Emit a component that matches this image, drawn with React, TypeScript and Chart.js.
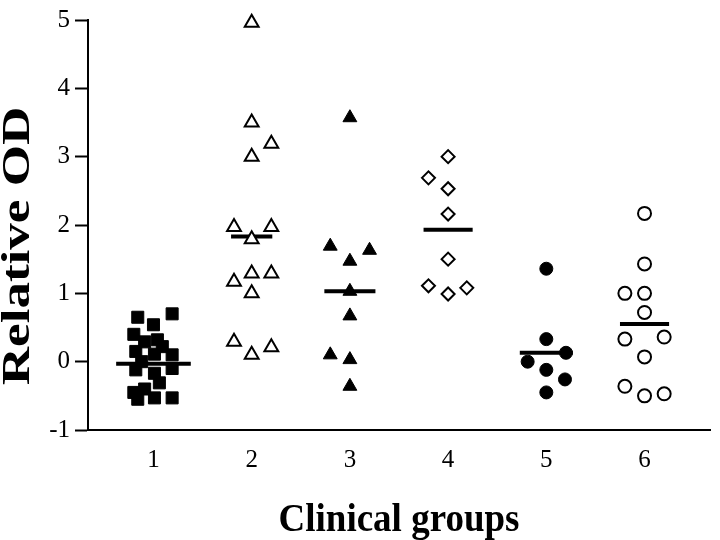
import React, { useEffect, useRef } from 'react';
import { Chart, registerables } from 'chart.js';

Chart.register(...registerables);

// ---------- data ----------
const groupLabels = ['1', '2', '3', '4', '5', '6'];
const groupPositions = [1, 2, 3, 4, 5, 6];
const yTicks = [-1, 0, 1, 2, 3, 4, 5];
const xTitle = 'Clinical groups';
const yTitle = 'Relative OD';

const group1X = [1.19, 0.84, 1.0, 0.8, 0.91, 1.04, 1.09, 0.82, 1.01, 1.19, 0.88, 1.19, 0.82, 1.01, 1.06, 0.91, 0.8, 1.01, 1.19, 0.84];
const group1Y = [0.7, 0.65, 0.54, 0.4, 0.29, 0.32, 0.22, 0.15, 0.11, 0.1, 0.0, -0.1, -0.12, -0.17, -0.31, -0.4, -0.45, -0.53, -0.53, -0.55];

const group2X = [2.0, 2.0, 2.2, 2.0, 1.82, 2.2, 2.0, 1.82, 2.0, 2.2, 2.0, 1.82, 2.0, 2.2];
const group2Y = [4.96, 3.5, 3.19, 3.0, 1.97, 1.97, 1.79, 1.17, 1.29, 1.29, 1.0, 0.29, 0.1, 0.21];

const group3X = [3.0, 2.8, 3.2, 3.0, 3.0, 3.0, 2.8, 3.0, 3.0];
const group3Y = [3.57, 1.69, 1.63, 1.47, 1.03, 0.67, 0.1, 0.03, -0.36];

const group4X = [4.0, 3.8, 4.0, 4.0, 4.0, 3.8, 4.0, 4.19];
const group4Y = [3.0, 2.69, 2.53, 2.16, 1.5, 1.11, 0.99, 1.08];

const group5X = [5.0, 5.0, 5.2, 4.81, 5.0, 5.19, 5.0];
const group5Y = [1.36, 0.33, 0.13, 0.0, -0.12, -0.26, -0.45];

const group6X = [6.0, 6.0, 5.8, 6.0, 6.0, 5.8, 6.2, 6.0, 5.8, 6.0, 6.2];
const group6Y = [2.17, 1.43, 1.0, 1.0, 0.72, 0.33, 0.36, 0.07, -0.36, -0.5, -0.47];

const groupMeans = [-0.03, 1.83, 1.03, 1.93, 0.13, 0.55];

// ---------- styles ----------
const meanHalfWidths = [0.38, 0.21, 0.26, 0.25, 0.27, 0.25];
const FAMILY = '"Liberation Serif", "Times New Roman", serif';

const toPts = (xs: number[], ys: number[]) => xs.map((x, i) => ({ x, y: ys[i] }));

// Titles drawn with a slight stretch, like the reference figure
const titlePlugin = {
  id: 'stretchedTitles',
  afterDraw(chart: any) {
    const { ctx, chartArea } = chart;
    ctx.save();
    ctx.fillStyle = '#000';
    ctx.textAlign = 'center';
    ctx.textBaseline = 'alphabetic';

    // y title (rotated)
    ctx.save();
    ctx.font = `bold 39px ${FAMILY}`;
    ctx.translate(chartArea.left - 59, (chartArea.top + chartArea.bottom) / 2 + 21);
    ctx.rotate(-Math.PI / 2);
    ctx.scale(1.36, 1);
    ctx.fillText(yTitle, 0, 0);
    ctx.restore();

    // x title
    ctx.save();
    ctx.font = `bold 37px ${FAMILY}`;
    ctx.translate((chartArea.left + chartArea.right) / 2, chartArea.bottom + 101);
    ctx.scale(1, 1.1);
    ctx.fillText(xTitle, 0, 0);
    ctx.restore();

    ctx.restore();
  },
};

export default function App() {
  const ref = useRef<HTMLCanvasElement>(null);

  useEffect(() => {
    document.body.style.margin = '0';
    const canvas = ref.current;
    if (!canvas) return;

    const markerDefs = [
      { xs: group1X, ys: group1Y, style: 'rect', r: 8.5, fill: '#000', bw: 1 },
      { xs: group2X, ys: group2Y, style: 'triangle', r: 8, fill: '#fff', bw: 2 },
      { xs: group3X, ys: group3Y, style: 'triangle', r: 8, fill: '#000', bw: 1 },
      { xs: group4X, ys: group4Y, style: 'rectRot', r: 6.5, fill: '#fff', bw: 2 },
      { xs: group5X, ys: group5Y, style: 'circle', r: 6.5, fill: '#000', bw: 1 },
      { xs: group6X, ys: group6Y, style: 'circle', r: 6.5, fill: '#fff', bw: 2 },
    ];

    const pointSets: any[] = markerDefs.map((m) => ({
      type: 'scatter',
      data: toPts(m.xs, m.ys),
      pointStyle: m.style,
      pointRadius: m.r,
      pointHoverRadius: m.r,
      pointBackgroundColor: m.fill,
      pointBorderColor: '#000',
      pointBorderWidth: m.bw,
      showLine: false,
      clip: false,
    }));

    const meanSets: any[] = groupPositions.map((g, i) => ({
      type: 'line',
      data: [
        { x: g - meanHalfWidths[i], y: groupMeans[i] },
        { x: g + meanHalfWidths[i], y: groupMeans[i] },
      ],
      borderColor: '#000',
      borderWidth: 4,
      pointRadius: 0,
      fill: false,
      clip: false,
    }));

    const tickFont = { family: FAMILY, size: 25 };

    const chart = new Chart(canvas, {
      type: 'scatter',
      data: { datasets: [...pointSets, ...meanSets] },
      plugins: [titlePlugin],
      options: {
        animation: false,
        responsive: false,
        devicePixelRatio: 1,
        layout: { padding: { top: 10, right: 0, bottom: 0, left: 0 } },
        plugins: { legend: { display: false }, tooltip: { enabled: false } },
        scales: {
          x: {
            type: 'linear',
            min: 1 / 3,
            max: 6 + 2 / 3,
            afterBuildTicks: (s: any) => {
              s.ticks = groupPositions.map((v) => ({ value: v }));
            },
            afterFit: (s: any) => {
              s.height = 110;
            },
            ticks: {
              callback: (v: any) => {
                const i = groupPositions.indexOf(Number(v));
                return i >= 0 ? groupLabels[i] : '';
              },
              font: tickFont,
              color: '#000',
              padding: 15,
              maxRotation: 0,
              autoSkip: false,
            },
            grid: { display: false, drawTicks: false },
            border: { display: true, color: '#000', width: 2 },
            title: { display: false },
          },
          y: {
            type: 'linear',
            min: -1,
            max: 5,
            afterBuildTicks: (s: any) => {
              s.ticks = yTicks.map((v) => ({ value: v }));
            },
            afterFit: (s: any) => {
              s.width = 88;
            },
            ticks: {
              font: tickFont,
              color: '#000',
              padding: 5,
              callback: (v: any) => String(v),
            },
            grid: {
              drawOnChartArea: false,
              drawTicks: true,
              tickLength: 13,
              tickWidth: 2,
              tickColor: '#000',
            },
            border: { display: true, color: '#000', width: 2 },
            title: { display: false },
          },
        },
      } as any,
    });

    return () => chart.destroy();
  }, []);

  return (
    <div style={{ width: 720, height: 540 }}>
      <canvas ref={ref} width={720} height={540} style={{ display: 'block' }} />
    </div>
  );
}
